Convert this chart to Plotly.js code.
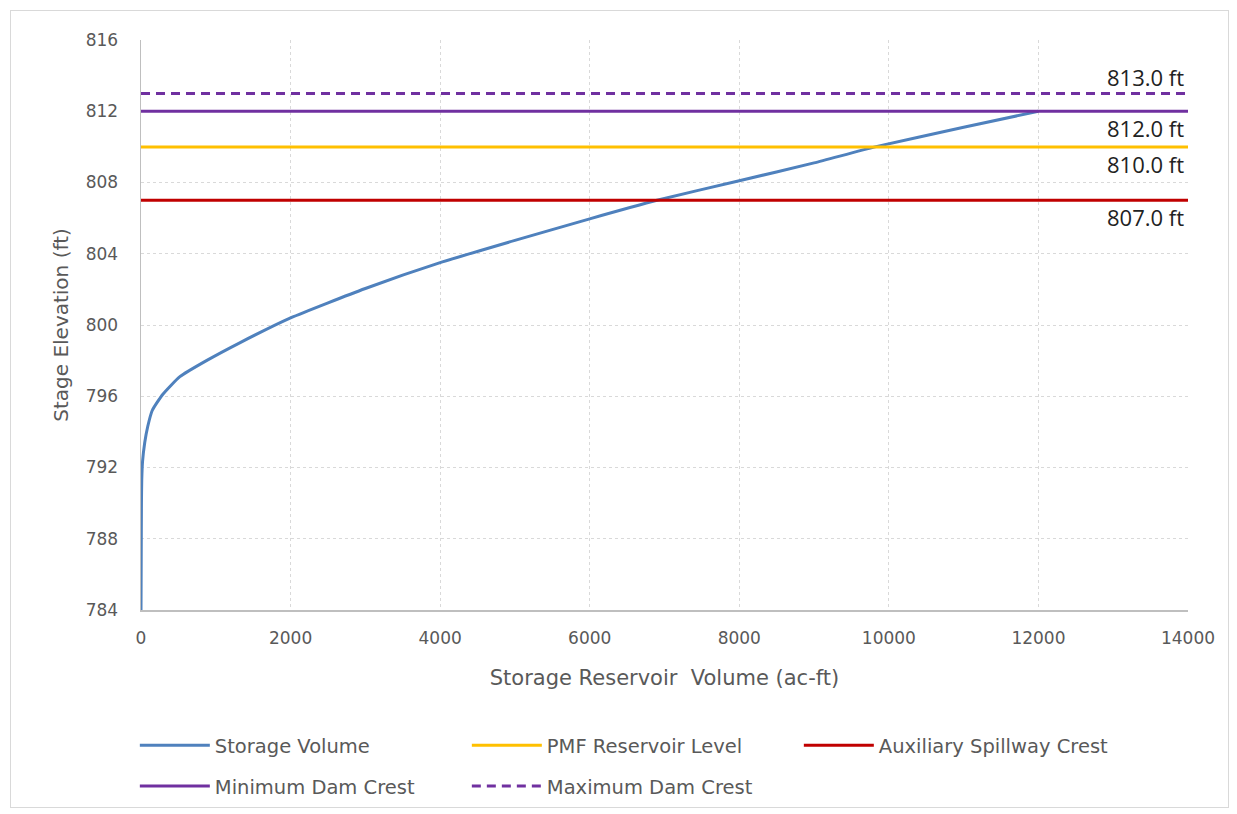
<!DOCTYPE html>
<html><head><meta charset="utf-8">
<script src="https://cdn.plot.ly/plotly-3.0.1.min.js"></script>
<style>
html,body{margin:0;padding:0;background:#fff;}
#frame{position:absolute;left:10px;top:10px;width:1219px;height:798px;border:1px solid #d9d9d9;box-sizing:border-box;}
#chart{position:absolute;left:0;top:0;width:1237px;height:814px;}
</style></head>
<body>
<div id="frame"></div>
<div id="chart"></div>
<script>
// Storage curve
const storageVolume = [0, 3, 6, 10, 20, 50, 90, 150, 290, 520, 875, 1320, 2000, 3000, 4000, 5000, 6000, 6900, 8000, 9000, 9814, 11000, 12000];
const stageElevation = [784, 787, 790, 791.3, 792.3, 793.4, 794.3, 795.2, 796.1, 797.1, 798, 799, 800.4, 802.05, 803.5, 804.75, 805.96, 807, 808.1, 809.1, 810, 811.1, 812];

// Reference levels
const levelNames = ["PMF Reservoir Level", "Auxiliary Spillway Crest", "Minimum Dam Crest", "Maximum Dam Crest"];
const levelValues = [810, 807, 812, 813];
const levelColors = ["#ffc000", "#c00000", "#7030a0", "#7030a0"];
const levelDash = ["solid", "solid", "solid", "9px,6px"];
const levelLegend = ["legend", "legend", "legend2", "legend2"];
const levelSpan = [0, 14000];

const traces = [{
  x: storageVolume, y: stageElevation, mode: "lines", name: "Storage Volume", legend: "legend",
  line: {color: "#4f81bd", width: 3, shape: "spline", smoothing: 0.5}
}];
levelNames.forEach((n, i) => {
  traces.push({x: levelSpan, y: [levelValues[i], levelValues[i]], mode: "lines", name: n,
    legend: levelLegend[i], line: {color: levelColors[i], width: 3, dash: levelDash[i]}});
});

const annotations = levelValues.map((v, i) => ({
  x: levelSpan[1], y: v, xref: "x", yref: "y",
  text: v.toFixed(1) + " ft", showarrow: false, xanchor: "right",
  yanchor: v === 813 ? "bottom" : "top", xshift: -2, yshift: v === 813 ? -1 : 0,
  font: {family: "'Open Sans', sans-serif", size: 22, color: "#222"}
}));

const fam = "'DejaVu Sans', sans-serif";
const tickFont = {family: fam, size: 17, color: "#595959"};
const legFont = {family: fam, size: 19.5, color: "#595959"};
const legBase = {orientation: "h", xref: "container", yref: "container", x: 0.109, xanchor: "left",
  yanchor: "top", itemwidth: 70, entrywidth: 247, entrywidthmode: "pixels", traceorder: "normal", font: legFont};
const layout = {
  width: 1237, height: 814,
  margin: {l: 141, r: 49, t: 40, b: 204},
  paper_bgcolor: "rgba(0,0,0,0)", plot_bgcolor: "rgba(0,0,0,0)",
  showlegend: true,
  legend: Object.assign({}, legBase, {y: 0.108}),
  legend2: Object.assign({}, legBase, {y: 0.058}),
  xaxis: {range: [0, 14000], dtick: 2000, tickformat: "d", tickfont: tickFont, ticklabelstandoff: 12,
    title: {text: "Storage Reservoir&nbsp; Volume (ac-ft)", font: {family: fam, size: 21, color: "#595959"}, standoff: 23},
    showgrid: true, gridcolor: "#d9d9d9", griddash: "dot", gridwidth: 1,
    showline: true, linecolor: "#bfbfbf", linewidth: 1.5, zeroline: false, ticks: "", ticklen: 0},
  yaxis: {range: [784, 816], dtick: 4, tickfont: tickFont, ticklabelstandoff: 18,
    title: {text: "Stage Elevation (ft)", font: {family: fam, size: 20, color: "#595959"}, standoff: 11},
    showgrid: true, gridcolor: "#d9d9d9", griddash: "dot", gridwidth: 1,
    showline: true, linecolor: "#bfbfbf", linewidth: 1.5, zeroline: false, ticks: "", ticklen: 0},
  annotations: annotations
};
Plotly.newPlot("chart", traces, layout, {displayModeBar: false, staticPlot: true});
</script>
</body></html>
